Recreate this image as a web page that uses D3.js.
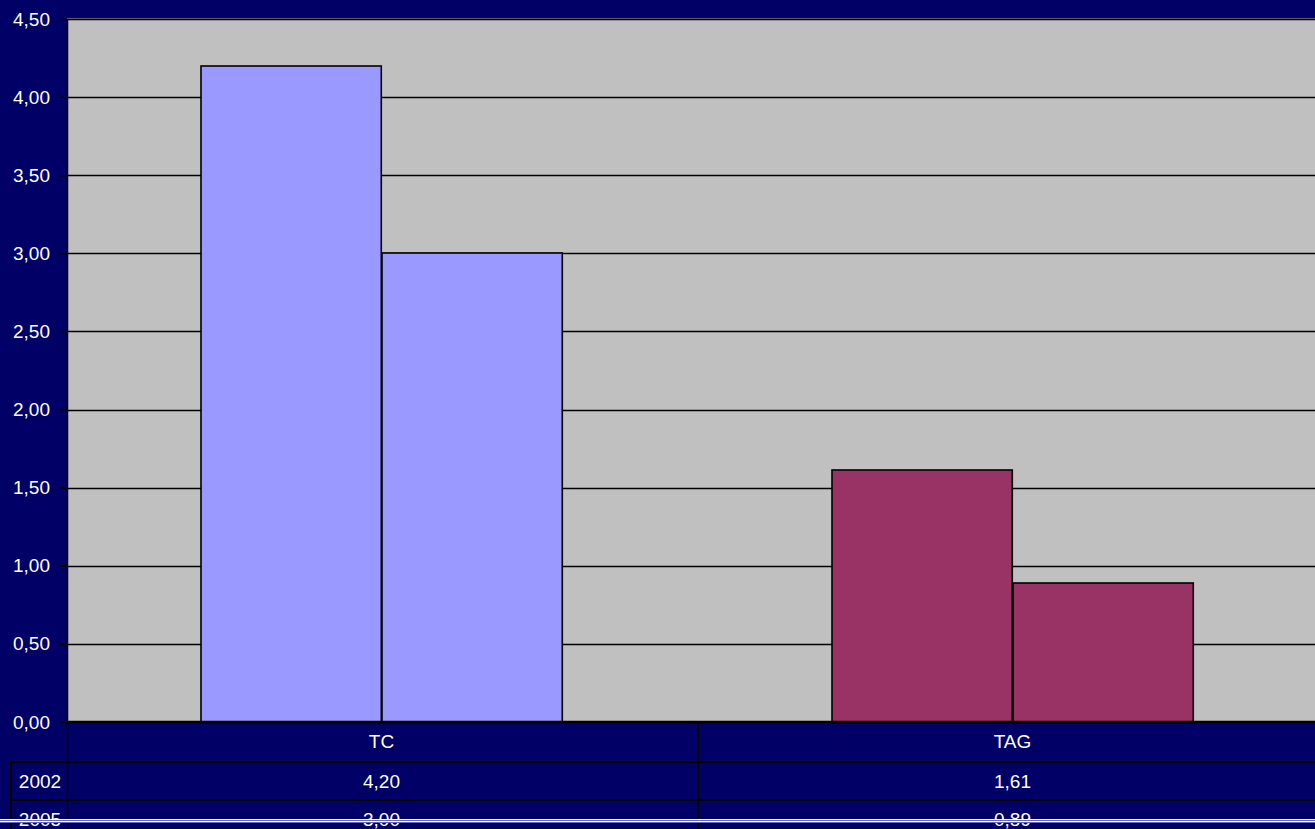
<!DOCTYPE html>
<html>
<head>
<meta charset="utf-8">
<script src="https://cdn.jsdelivr.net/npm/d3@7"></script>
<style>
  html, body { margin: 0; padding: 0; background: #000066; overflow: hidden; }
  text { font-family: "Liberation Sans", Arial, sans-serif; }
</style>
</head>
<body>
<div id="chart"></div>
<script>
const categories = ["TC", "TAG"];
const years = ["2002", "2005"];
const values2002 = [4.20, 1.61];
const values2005 = [3.00, 0.89];
const yTicks = [0, 0.5, 1, 1.5, 2, 2.5, 3, 3.5, 4, 4.5];

const seriesValues = { "2002": values2002, "2005": values2005 };
const colors = { "TC": "#9999FF", "TAG": "#993366" };

const width = 1315;
const height = 829;

// plot area
const plotLeft = 67;
const plotTop = 19;
const plotBottom = 722;
const catWidth = 631;
const fontSize = "19px";

const fmt = v => d3.format(".2f")(v).replace(".", ",");

const svg = d3.select("#chart")
    .append("svg")
    .attr("width", width)
    .attr("height", height);

svg.append("rect")
    .attr("width", width)
    .attr("height", height)
    .attr("fill", "#000066");

const x = d3.scaleBand()
    .domain(categories)
    .range([plotLeft - 1, plotLeft - 1 + catWidth * categories.length])
    .padding(0);

const xInner = d3.scaleBand()
    .domain(years)
    .range([0, x.bandwidth()])
    .paddingInner(0)
    .paddingOuter(0.75);

const y = d3.scaleLinear()
    .domain([0, 4.5])
    .range([plotBottom, plotTop]);

// plot background
svg.append("rect")
    .attr("x", plotLeft)
    .attr("y", plotTop)
    .attr("width", width - plotLeft)
    .attr("height", plotBottom - plotTop)
    .attr("fill", "#C0C0C0");

svg.append("line")
    .attr("x1", plotLeft).attr("x2", width)
    .attr("y1", plotTop - 0.5).attr("y2", plotTop - 0.5)
    .attr("stroke", "#808080");

// gridlines
svg.append("g")
    .selectAll("line")
    .data(yTicks.slice(1))
    .join("line")
    .attr("x1", plotLeft)
    .attr("x2", width)
    .attr("y1", d => Math.round(y(d)) + 0.5)
    .attr("y2", d => Math.round(y(d)) + 0.5)
    .attr("stroke", "#000")
    .attr("stroke-width", 1.4);

// bars
const groups = svg.append("g")
    .selectAll("g")
    .data(categories)
    .join("g")
    .attr("transform", d => `translate(${x(d)},0)`);

groups.selectAll("rect")
    .data((c, i) => years.map(yr => ({ cat: c, year: yr, value: seriesValues[yr][i] })))
    .join("rect")
    .attr("x", d => Math.round(xInner(d.year)))
    .attr("y", d => Math.round(y(d.value)))
    .attr("width", xInner.bandwidth())
    .attr("height", d => plotBottom - Math.round(y(d.value)))
    .attr("fill", d => colors[d.cat])
    .attr("stroke", "#000")
    .attr("stroke-width", 1.6);

// y axis
const yAxis = svg.append("g")
    .attr("transform", `translate(${plotLeft},0)`)
    .call(d3.axisLeft(y).tickValues(yTicks).tickFormat(fmt).tickSize(7).tickPadding(10));

yAxis.select(".domain").remove();
yAxis.selectAll("line").attr("stroke", "#000").attr("stroke-width", 1.5);
yAxis.selectAll("text")
    .attr("fill", "#fff")
    .style("font-size", fontSize)
    .style("font-family", "'Liberation Sans', Arial, sans-serif");

svg.append("line")
    .attr("x1", plotLeft + 0.5).attr("x2", plotLeft + 0.5)
    .attr("y1", plotTop).attr("y2", height)
    .attr("stroke", "#000").attr("stroke-width", 1.5);

// data table
const rowTop = [722, 762, 800];
const rowH = 39;
const labelLeft = 11;

const table = svg.append("g");

table.append("line")
    .attr("x1", plotLeft).attr("x2", width)
    .attr("y1", plotBottom).attr("y2", plotBottom)
    .attr("stroke", "#000").attr("stroke-width", 2.5);

table.selectAll("line.row")
    .data(rowTop.slice(1))
    .join("line")
    .attr("class", "row")
    .attr("x1", labelLeft).attr("x2", width)
    .attr("y1", d => d).attr("y2", d => d)
    .attr("stroke", "#000").attr("stroke-width", 2);

table.append("line")
    .attr("x1", labelLeft).attr("x2", labelLeft)
    .attr("y1", rowTop[1]).attr("y2", height)
    .attr("stroke", "#000").attr("stroke-width", 2);

table.selectAll("line.col")
    .data(categories.slice(1))
    .join("line")
    .attr("class", "col")
    .attr("x1", d => x(d) + 1).attr("x2", d => x(d) + 1)
    .attr("y1", plotBottom).attr("y2", height)
    .attr("stroke", "#000").attr("stroke-width", 2);

// category header
table.selectAll("text.cat")
    .data(categories)
    .join("text")
    .attr("class", "cat")
    .attr("x", d => x(d) + x.bandwidth() / 2)
    .attr("y", rowTop[0] + rowH / 2 + 6)
    .attr("text-anchor", "middle")
    .attr("fill", "#fff")
    .style("font-size", fontSize)
    .text(d => d);

years.forEach((yr, r) => {
    const ty = rowTop[r + 1] + rowH / 2 + 6;
    table.append("text")
        .attr("x", (labelLeft + plotLeft) / 2 + 1)
        .attr("y", ty)
        .attr("text-anchor", "middle")
        .attr("fill", "#fff")
        .style("font-size", fontSize)
        .text(yr);
    table.selectAll(null)
        .data(categories)
        .join("text")
        .attr("x", d => x(d) + x.bandwidth() / 2)
        .attr("y", ty)
        .attr("text-anchor", "middle")
        .attr("fill", "#fff")
        .style("font-size", fontSize)
        .text((d, i) => fmt(seriesValues[yr][i]));
});

// double white line at bottom edge
svg.append("rect")
    .attr("x", 0).attr("y", 819)
    .attr("width", width).attr("height", 4)
    .attr("fill", "#6666AA");
svg.append("line")
    .attr("x1", 0).attr("x2", width)
    .attr("y1", 819.5).attr("y2", 819.5)
    .attr("stroke", "#fff");
svg.append("line")
    .attr("x1", 0).attr("x2", width)
    .attr("y1", 821.5).attr("y2", 821.5)
    .attr("stroke", "#fff");
</script>
</body>
</html>
